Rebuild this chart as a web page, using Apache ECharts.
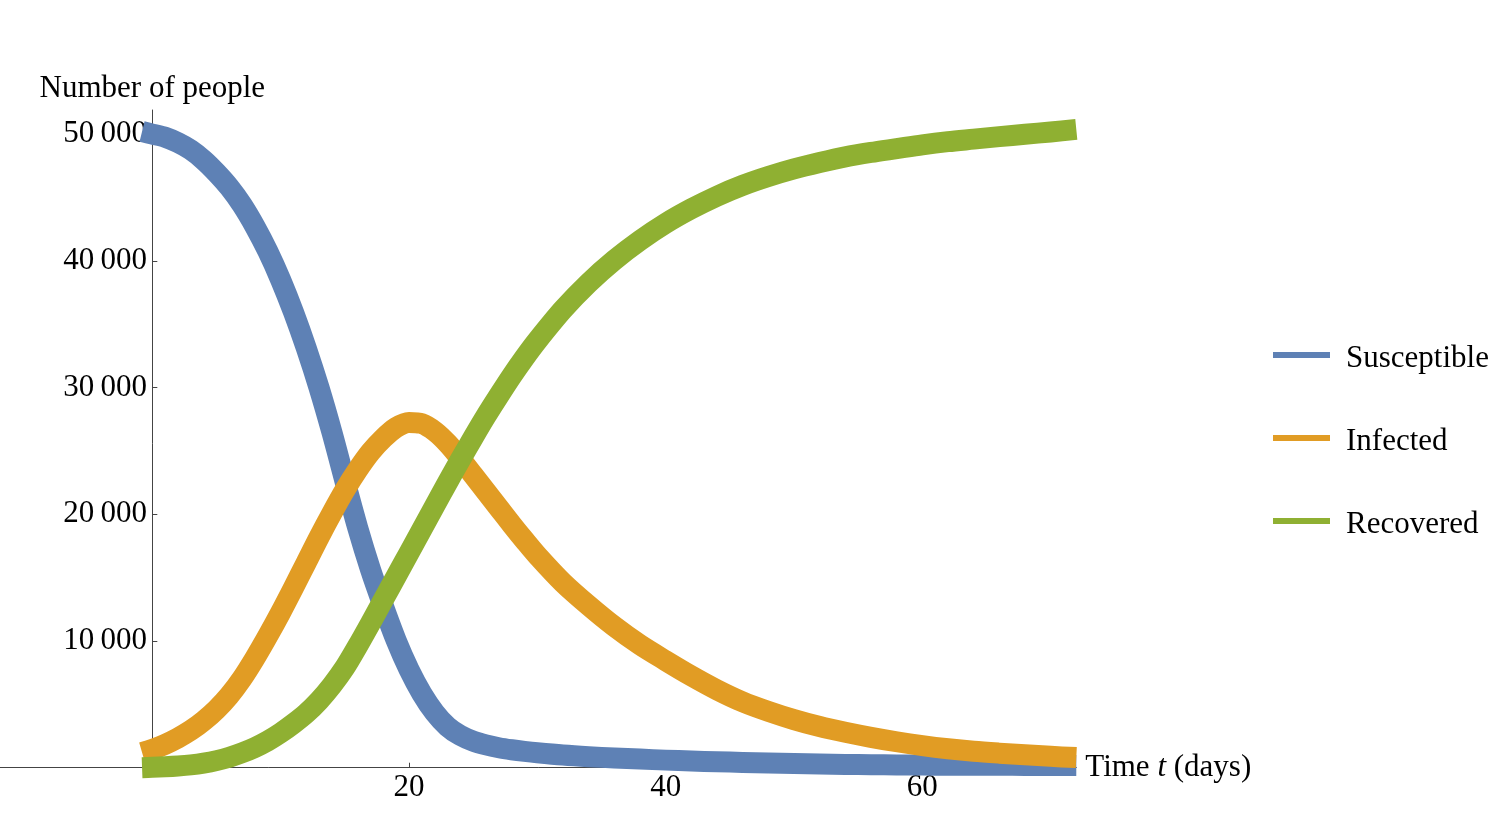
<!DOCTYPE html>
<html>
<head>
<meta charset="utf-8">
<script src="https://cdn.jsdelivr.net/npm/echarts@6/dist/echarts.min.js"></script>
<style>
html,body{margin:0;padding:0;background:#fff;}
#chart{width:1500px;height:822px;}
</style>
</head>
<body>
<div id="chart"></div>
<script>
const times = [-0.8, 0, 1, 2, 3, 4, 5, 6, 7, 8, 9, 10, 11, 12, 13, 14, 15, 16, 17, 18, 19, 20, 21, 22, 23, 24, 25, 26, 27, 28, 29, 30,
  32, 34, 36, 38, 40, 42, 44, 46, 48, 50, 52, 54, 56, 58, 60, 62, 64, 66, 68, 70, 72];
const susceptible = [50200, 50000, 49750, 49320, 48750, 47950, 46950, 45800, 44400, 42700, 40750, 38500, 35950, 33100, 29950, 26450, 22650, 18950, 15650, 12750, 10050, 7750, 5850, 4350, 3250, 2550, 2100, 1800, 1580, 1420, 1290, 1180,
  1000, 870, 770, 680, 600, 530, 470, 420, 370, 330, 290, 260, 240, 225, 210, 200, 195, 190, 185, 182, 180];
const infected = [1200, 1450, 1850, 2350, 2950, 3700, 4600, 5700, 7050, 8650, 10400, 12250, 14200, 16200, 18200, 20100, 21900, 23500, 24900, 26000, 26850, 27250, 27150, 26550, 25600, 24400, 23100, 21800, 20500, 19200, 17950, 16750,
  14600, 12800, 11150, 9700, 8450, 7250, 6150, 5200, 4450, 3800, 3250, 2800, 2400, 2050, 1750, 1500, 1300, 1150, 1020, 900, 800];
const recovered = [0, 30, 70, 130, 220, 360, 560, 830, 1180, 1600, 2120, 2750, 3480, 4300, 5300, 6500, 7900, 9600, 11400, 13250, 15100, 16950, 18800, 20650, 22500, 24300, 26050, 27750, 29350, 30900, 32350, 33700,
  36150, 38250, 40050, 41600, 42950, 44100, 45100, 45950, 46650, 47250, 47750, 48200, 48550, 48850, 49150, 49400, 49600, 49800, 49980, 50170, 50370];
const seriesNames = ['Susceptible', 'Infected', 'Recovered'];
const xTicks = [20, 40, 60];
const yTicks = [10000, 20000, 30000, 40000, 50000];

const colors = ['#5E81B5', '#E19C24', '#8FB032'];
const font = "'Liberation Serif', 'Times New Roman', serif";
const zip = (vals) => times.map((t, i) => [t, vals[i]]);
const allVals = [susceptible, infected, recovered];

const chart = echarts.init(document.getElementById('chart'), null, {renderer: 'canvas'});
chart.setOption({
  animation: false,
  backgroundColor: '#fff',
  color: colors,
  textStyle: {fontFamily: font, color: '#000'},
  grid: {left: 0, right: 423.7, top: 110, bottom: 45.4, containLabel: false, outerBoundsMode: 'none'},
  legend: {
    orient: 'vertical', left: 1273, top: 339, padding: 0,
    icon: 'path://M0,0L57,0L57,6L0,6Z M0,14L57,14', itemWidth: 57, itemHeight: 14, itemGap: 43,
    textStyle: {fontFamily: font, fontSize: 31, color: '#000', lineHeight: 40, padding: [0, 0, 0, 11]},
    data: seriesNames
  },
  xAxis: {
    type: 'value', min: -11.87, max: 72,
    axisLine: {onZero: true, lineStyle: {color: '#444', width: 1}},
    axisTick: {inside: true, length: 5, customValues: xTicks, lineStyle: {color: '#444'}},
    axisLabel: {customValues: xTicks, fontFamily: font, fontSize: 31, lineHeight: 24, color: '#000', margin: -1},
    splitLine: {show: false},
    name: '{a|Time }{b|t}{a| (days)}', nameLocation: 'end', nameGap: 9,
    nameTextStyle: {rich: {
      a: {fontFamily: font, fontSize: 31, color: '#000'},
      b: {fontFamily: font, fontSize: 31, color: '#000', fontStyle: 'italic'}
    }}
  },
  yAxis: {
    type: 'value', min: -700, max: 51900,
    axisLine: {onZero: true, lineStyle: {color: '#444', width: 1}},
    axisTick: {inside: true, length: 5, customValues: yTicks, lineStyle: {color: '#444'}},
    axisLabel: {
      customValues: yTicks, fontFamily: font, fontSize: 31, color: '#000', margin: -147,
      formatter: (v) => String(Math.floor(v / 1000)) + '\u2009' + String(v % 1000).padStart(3, '0')
    },
    splitLine: {show: false},
    name: 'Number of people', nameLocation: 'end', nameGap: 6,
    nameTextStyle: {fontFamily: font, fontSize: 31, color: '#000', align: 'center'}
  },
  series: seriesNames.map((name, k) => ({
    name: name, type: 'line', data: zip(allVals[k]),
    showSymbol: false, smooth: 0.3, clip: false,
    lineStyle: {width: 21, color: colors[k], cap: 'butt', join: 'round'},
    itemStyle: {color: colors[k]},
    z: 2 + k
  }))
});
</script>
</body>
</html>
